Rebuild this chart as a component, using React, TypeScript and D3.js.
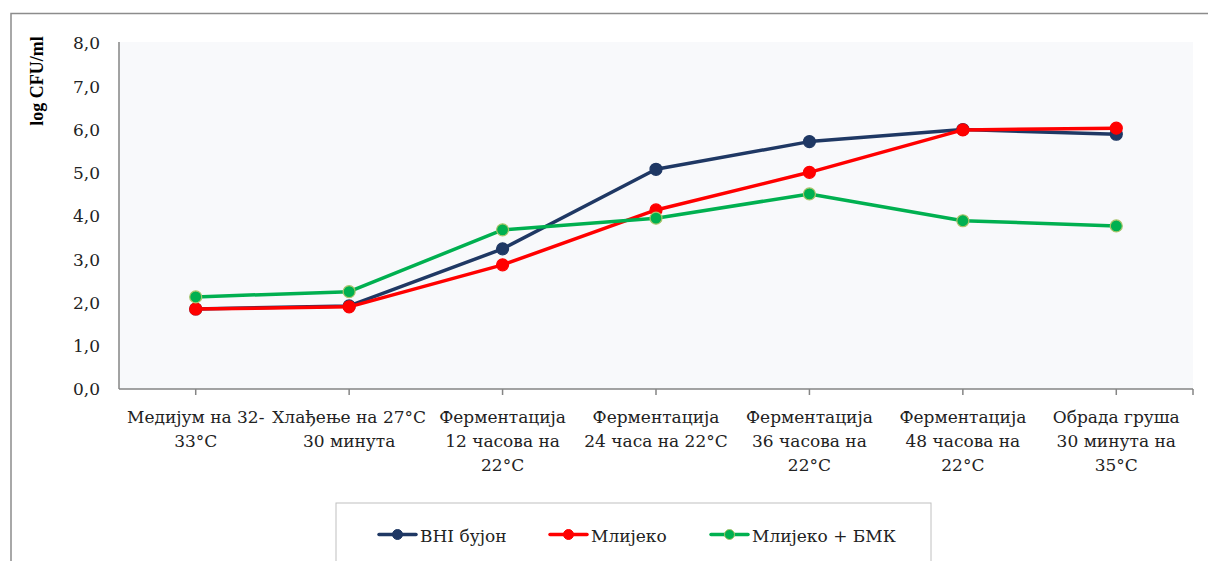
import React from "react";
import * as d3 from "d3";

const categories: string[][] = [
  ["Медијум на 32-", "33°C"],
  ["Хлађење на 27°C", "30 минута"],
  ["Ферментација", "12 часова на", "22°C"],
  ["Ферментација", "24 часа на 22°C"],
  ["Ферментација", "36 часова на", "22°C"],
  ["Ферментација", "48 часова на", "22°C"],
  ["Обрада груша", "30 минута на", "35°C"],
];

const bhiValues = [1.85, 1.92, 3.24, 5.08, 5.72, 6.0, 5.89];
const milkValues = [1.85, 1.9, 2.87, 4.14, 5.01, 5.99, 6.03];
const milkBmkValues = [2.13, 2.25, 3.68, 3.95, 4.51, 3.89, 3.77];

const yTicks = [0, 1, 2, 3, 4, 5, 6, 7, 8];

const seriesNames = ["ВНІ бујон", "Млијеко", "Млијеко + БМК"];

const series = [
  { name: seriesNames[0], values: bhiValues, color: "#1f3864", marker: "#1f3864", markerStroke: "#1f3864" },
  { name: seriesNames[1], values: milkValues, color: "#ff0000", marker: "#ff0000", markerStroke: "#ff0000" },
  { name: seriesNames[2], values: milkBmkValues, color: "#00b050", marker: "#00b050", markerStroke: "#a9c46a" },
];

const W = 1208;
const H = 561;
const FONT = "'DejaVu Serif', serif";
const TITLE_FONT = "'Liberation Serif', 'Times New Roman', serif";

export default function App() {
  const left = 119;
  const right = 1193;
  const top = 43;
  const bottom = 389;
  const keys = categories.map((_, i) => String(i));
  const x = d3.scaleBand<string>().domain(keys).range([left, right]);
  const cx = (i: number) => (x(String(i)) as number) + x.bandwidth() / 2;
  const y = d3.scaleLinear().domain([0, 8]).range([bottom, top]);
  const line = d3
    .line<number>()
    .x((_, i) => cx(i))
    .y((v) => y(v));

  const legendItems = [379, 550, 711];

  return (
    <svg
      width={W}
      height={H}
      style={{ position: "absolute", left: 0, top: 0, background: "#fff" }}
      fontFamily={FONT}
    >
      {/* outer chart border */}
      <rect x={11} y={13.5} width={W + 20} height={H + 20} fill="#fff" stroke="#8c8c8c" strokeWidth={1.5} />
      {/* plot background */}
      <rect x={left} y={42} width={right - left} height={bottom - 42} fill="#f8f9fb" />
      {/* axes */}
      <line x1={left} x2={left} y1={42} y2={bottom} stroke="#858585" strokeWidth={1.5} />
      <line x1={left} x2={right} y1={bottom} y2={bottom} stroke="#858585" strokeWidth={1.5} />
      {keys.map((k, i) => (
        <line key={k} x1={cx(i)} x2={cx(i)} y1={bottom} y2={bottom + 6} stroke="#858585" strokeWidth={1.5} />
      ))}
      <line x1={right} x2={right} y1={bottom} y2={bottom + 6} stroke="#858585" strokeWidth={1.5} />
      {/* y tick labels */}
      {yTicks.map((t) => (
        <text key={t} x={100} y={y(t) + 6.3} textAnchor="end" fontSize={17} fill="#222">
          {d3.format(".1f")(t).replace(".", ",")}
        </text>
      ))}
      {/* y title */}
      <text
        transform={`translate(43, ${81}) rotate(-90)`}
        textAnchor="middle"
        fontSize={18}
        fontWeight="bold"
        fill="#000"
        fontFamily={TITLE_FONT}
      >
        log CFU/ml
      </text>
      {/* category labels */}
      {categories.map((lines, i) => (
        <text key={i} textAnchor="middle" fontSize={17} fill="#222">
          {lines.map((ln, j) => (
            <tspan key={j} x={cx(i)} y={423 + j * 24}>
              {ln}
            </tspan>
          ))}
        </text>
      ))}
      {/* series */}
      {series.map((s) => (
        <g key={s.name}>
          <path d={line(s.values) || ""} fill="none" stroke={s.color} strokeWidth={3.5} strokeLinejoin="round" />
          {s.values.map((v, i) => (
            <circle key={i} cx={cx(i)} cy={y(v)} r={6} fill={s.marker} stroke={s.markerStroke} strokeWidth={1.2} />
          ))}
        </g>
      ))}
      {/* legend */}
      <rect x={336} y={503} width={595} height={80} fill="#fff" stroke="#c0c0c0" strokeWidth={1} />
      {series.map((s, i) => (
        <g key={s.name}>
          <line x1={legendItems[i]} x2={legendItems[i] + 37} y1={534.5} y2={534.5} stroke={s.color} strokeWidth={3.5} strokeLinecap="round" />
          <circle cx={legendItems[i] + 18.5} cy={534.5} r={5} fill={s.marker} stroke={s.markerStroke} strokeWidth={1} />
          <text x={legendItems[i] + 41} y={541.5} fontSize={17} fill="#222">
            {s.name}
          </text>
        </g>
      ))}
    </svg>
  );
}
